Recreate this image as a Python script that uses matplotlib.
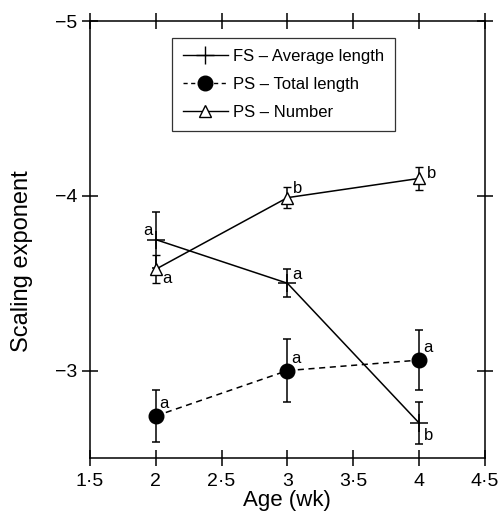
import matplotlib
matplotlib.use('Agg')
import matplotlib.pyplot as plt
from matplotlib.lines import Line2D

plt.rcParams['font.family'] = ['Liberation Sans', 'DejaVu Sans']

# Data
ages = [2, 3, 4]
fs_avg = [-3.75, -3.50, -2.70]
fs_avg_err = [0.16, 0.08, 0.12]
fs_avg_letters = ['a', 'a', 'b']
ps_total = [-2.74, -3.00, -3.06]
ps_total_err = [0.15, 0.18, 0.17]
ps_total_letters = ['a', 'a', 'a']
ps_num = [-3.58, -3.99, -4.10]
ps_num_err = [0.08, 0.06, 0.065]
ps_num_letters = ['a', 'b', 'b']

x_ticks = [1.5, 2, 2.5, 3, 3.5, 4, 4.5]
x_labels = ['1·5', '2', '2·5', '3', '3·5', '4', '4·5']
y_ticks = [-5, -4, -3]
y_labels = ['\u22125', '\u22124', '\u22123']

fig = plt.figure(figsize=(5.02, 5.18), dpi=100)
ax = fig.add_axes([0.179, 0.116, 0.787, 0.843])

ax.errorbar(ages, fs_avg, yerr=fs_avg_err, color='black', lw=1.1, marker='+',
            ms=13, mew=1.1, capsize=3, elinewidth=1.1, capthick=1.1)
ax.errorbar(ages, ps_total, yerr=ps_total_err, color='black', lw=1.1, ls='--',
            dashes=(4, 3), marker='o', ms=10.5, capsize=3, elinewidth=1.1,
            capthick=1.1)
ax.errorbar(ages, ps_num, yerr=ps_num_err, color='black', lw=1.1, marker='^',
            ms=9, mfc='white', mew=1.0, capsize=3, elinewidth=1.1,
            capthick=1.1)

# significance letters (offsets in data units)
fs_off = [(-0.06, -0.05), (0.07, -0.05), (0.07, 0.07)]
for x, y, t, (dx, dy) in zip(ages, fs_avg, fs_avg_letters, fs_off):
    ax.text(x + dx, y + dy, t, fontsize=12, ha='center', va='center')
for x, y, t in zip(ages, ps_total, ps_total_letters):
    ax.text(x + 0.065, y - 0.07, t, fontsize=12, ha='center', va='center')
num_off = [(0.085, 0.05), (0.08, -0.05), (0.095, -0.03)]
for x, y, t, (dx, dy) in zip(ages, ps_num, ps_num_letters, num_off):
    ax.text(x + dx, y + dy, t, fontsize=12, ha='center', va='center')

ax.set_xlim(1.5, 4.5)
ax.set_ylim(-2.5, -5)
ax.set_xticks(x_ticks)
ax.set_xticklabels(x_labels, fontsize=14)
ax.set_yticks(y_ticks)
ax.set_yticklabels(y_labels, fontsize=14)
ax.tick_params(direction='inout', length=12, width=1.1, top=True, right=True)
ax.tick_params(axis='x', pad=5)
ax.tick_params(axis='y', pad=3)
for s in ax.spines.values():
    s.set_linewidth(1.1)

ax.set_xlabel('Age (wk)', fontsize=16, labelpad=0)
ax.set_ylabel('Scaling exponent', fontsize=17)
ax.yaxis.set_label_coords(-0.144, 0.45)

handles = [
    Line2D([], [], color='black', lw=1.0, marker='+', ms=13, mew=1.0),
    Line2D([], [], color='black', lw=1.0, ls='--', dashes=(3, 2.5), marker='o', ms=10.5),
    Line2D([], [], color='black', lw=1.0, marker='^', ms=9, mfc='white', mew=1.0),
]
labels = ['FS \u2013 Average length', 'PS \u2013 Total length', 'PS \u2013 Number']
leg = ax.legend(handles, labels, loc='upper left', bbox_to_anchor=(0.208, 0.962),
                fontsize=12, handlelength=2.7, handletextpad=0.3, frameon=True,
                fancybox=False, borderpad=0.65, labelspacing=0.8,
                borderaxespad=0)
leg.get_frame().set_edgecolor('black')
leg.get_frame().set_linewidth(0.9)

fig.savefig('out.png', dpi=100)
